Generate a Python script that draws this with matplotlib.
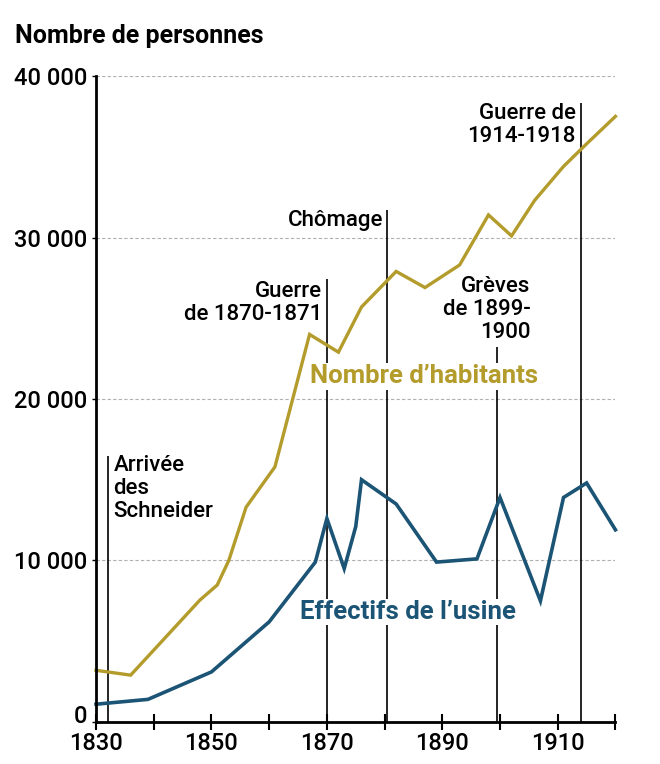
import numpy as np
import matplotlib.pyplot as plt
import matplotlib.transforms as mtransforms
from matplotlib.ticker import FuncFormatter

plt.rcParams['font.family'] = ['Roboto', 'DejaVu Sans']

# Nombre d'habitants (lecture du graphique)
annees_hab = [1830, 1836, 1848, 1851, 1853, 1856, 1861, 1867, 1872, 1876, 1882, 1887, 1893, 1898, 1902, 1906, 1911, 1915, 1920]
habitants = [3200, 2900, 7550, 8480, 10000, 13300, 15800, 24000, 22900, 25700, 27900, 26900, 28300, 31400, 30100, 32300, 34400, 35800, 37500]

# Effectifs de l'usine
annees_usine = [1830, 1839, 1850, 1860, 1868, 1870, 1873, 1875, 1876, 1882, 1889, 1896, 1900, 1907, 1911, 1915, 1920]
effectifs = [1100, 1400, 3100, 6200, 9900, 12600, 9500, 12100, 15000, 13500, 9900, 10100, 13900, 7500, 13900, 14800, 11900]

# Evenements : annee, hauteur du trait
evt_annees = [1832, 1870, 1880.5, 1899.5, 1914]
evt_hauts = [16500, 27400, 31700, 23200, 38300]

xticks = list(range(1830, 1921, 10))
xlabels = ['1830', '', '1850', '', '1870', '', '1890', '', '1910', '']

gold = '#b39c2c'
blue = '#1b5475'

fig = plt.figure(figsize=(6.6, 7.64), dpi=100)
ax = fig.add_axes([0.1455, 0.055, 0.787, 0.8455])

ax.set_xlim(1830, 1920)
ax.set_ylim(0, 40000)

for v in [10000, 20000, 30000, 40000]:
    ax.plot([1830, 1920], [v, v], color='#b0b0b0', lw=0.8, ls=(0, (3, 2)), zorder=1)

ax.vlines(evt_annees, 0, evt_hauts, color='black', lw=1.2, zorder=2)

ax.plot(annees_hab, habitants, color=gold, lw=2.4, zorder=3, clip_on=False, solid_joinstyle='miter')
ax.plot(annees_usine, effectifs, color=blue, lw=2.6, zorder=3, clip_on=False, solid_joinstyle='miter')

for s in ['top', 'right']:
    ax.spines[s].set_visible(False)
for s in ['left', 'bottom']:
    ax.spines[s].set_linewidth(2)
    ax.spines[s].set_zorder(4)

ax.set_xticks(xticks)
ax.set_xticklabels(xlabels)
ax.tick_params(axis='x', direction='inout', length=11, width=1.5, pad=2, labelsize=17)
ax.set_yticks([0, 10000, 20000, 30000, 40000])
ax.yaxis.set_major_formatter(FuncFormatter(lambda v, p: f'{int(v):,}'.replace(',', ' ')))
ax.tick_params(axis='y', length=3, width=1, pad=3, labelsize=17)
for lab in ax.get_xticklabels() + ax.get_yticklabels():
    lab.set_fontweight('medium')

# le "0" est un peu remonte pour ne pas toucher "1830"
zero = ax.get_yticklabels()[0]
zero.set_transform(zero.get_transform() + mtransforms.ScaledTranslation(0, 6 / 72, fig.dpi_scale_trans))

fig.text(15 / 660, 1 - 36 / 764, 'Nombre de personnes', fontsize=18, fontweight='bold', va='center', ha='left')

kw = dict(fontsize=16, fontweight='medium', linespacing=1.12, zorder=5)
ax.text(1833.0, 16550, 'Arrivée\ndes\nSchneider', ha='left', va='top', **kw)
ax.text(1869.2, 27300, 'Guerre\nde 1870-1871', ha='right', va='top', multialignment='right', **kw)
ax.text(1879.7, 31700, 'Chômage', ha='right', va='top', **kw)
ax.text(1905.3, 27600, 'Grèves\nde 1899-\n1900', ha='right', va='top', multialignment='right', **kw)
ax.text(1913.1, 38300, 'Guerre de\n1914-1918', ha='right', va='top', multialignment='right', **kw)

box = dict(facecolor='white', edgecolor='none', pad=1)
ax.text(1867.1, 21400, 'Nombre d\u2019habitants', color=gold, fontsize=18.5, fontweight='bold',
        ha='left', va='center', bbox=box, zorder=5)
ax.text(1865.4, 6800, 'Effectifs de l\u2019usine', color=blue, fontsize=18.5, fontweight='bold',
        ha='left', va='center', bbox=box, zorder=5)

fig.savefig('out.png', dpi=100)
